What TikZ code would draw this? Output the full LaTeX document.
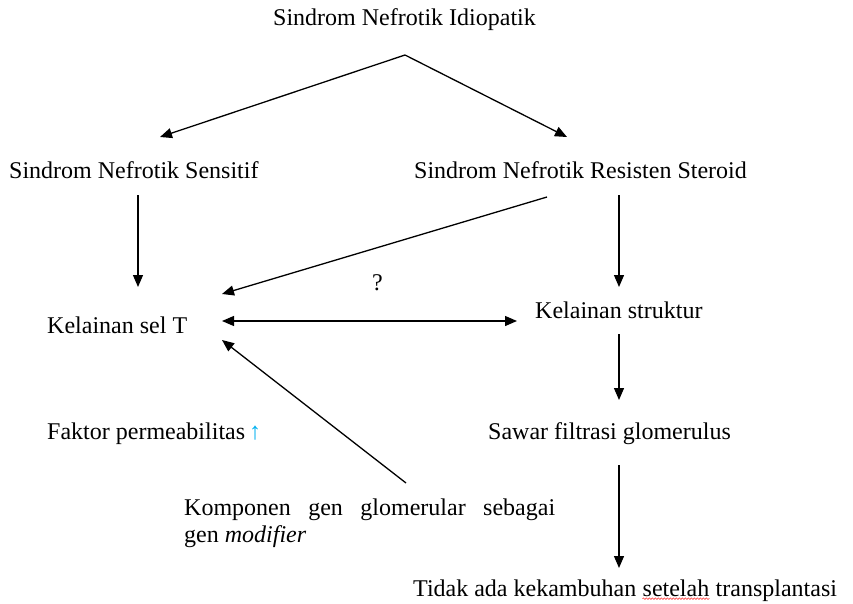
\documentclass[tikz,border=0pt]{standalone}
\usepackage{fontspec}
\setmainfont{Liberation Serif}
\usetikzlibrary{arrows.meta,decorations.pathmorphing,positioning}

\definecolor{upblue}{RGB}{0,176,240}

\tikzset{
  label text/.style={anchor=west, inner sep=0pt, font=\fontsize{24}{27}\selectfont},
  word text/.style={inner sep=0pt, font=\fontsize{24}{27}\selectfont},
  arrow/.style={-{Triangle[length=12pt,width=10pt]}, line width=1.3pt},
  both arrow/.style={{Triangle[length=12pt,width=10pt]}-{Triangle[length=12pt,width=10pt]}, line width=1.3pt}
}

\begin{document}
\begin{tikzpicture}[x=1pt,y=-1pt]
  \useasboundingbox (0,0) rectangle (853,604);

  \node[label text] (idio) at (273,20) {Sindrom Nefrotik Idiopatik};
  \node[label text] (sens) at (9,170) {Sindrom Nefrotik Sensitif};
  \node[label text] (resist) at (414,170) {Sindrom Nefrotik Resisten Steroid};
  \node[label text] (selT) at (47,325) {Kelainan sel T};
  \node[label text] (struk) at (535,310) {Kelainan struktur};
  \node[label text] (faktor) at (47,434)
      {Faktor permeabilitas\,{\color{upblue}↑}};
  \node[label text] (sawar) at (488,434) {Sawar filtrasi glomerulus};
  \node[label text, align=left] (komp) at (184,523)
      {\makebox[371pt][s]{Komponen gen glomerular sebagai}\\gen \textit{modifier}};
  \node[label text] (tidak) at (413,588) {Tidak ada kekambuhan};
  \node[word text, right=6pt of tidak.base east, anchor=base west] (setelah) {setelah};
  \node[word text, right=6pt of setelah.base east, anchor=base west] (transp) {transplantasi};
  \node[label text] (tanya) at (372,283) {?};

  % spelling mark under the word
  \draw[red!80, line width=0.6pt, decorate,
        decoration={snake,amplitude=0.8pt,segment length=3pt}]
      ([yshift=-2pt]setelah.south west) -- ([yshift=-2pt]setelah.south east);

  \coordinate (top) at (405,55);
  \draw[arrow] (top) -- (160,137);
  \draw[arrow] (top) -- (567,137);

  \draw[arrow] (138,195) -- (138,287);
  \draw[arrow] (547,197) -- (222,294);
  \draw[arrow] (619,195) -- (619,287);
  \draw[both arrow] (222,321) -- (517,321);
  \draw[arrow] (406,483) -- (222,340);
  \draw[arrow] (619,334) -- (619,400);
  \draw[arrow] (619,465) -- (619,568);
\end{tikzpicture}
\end{document}
